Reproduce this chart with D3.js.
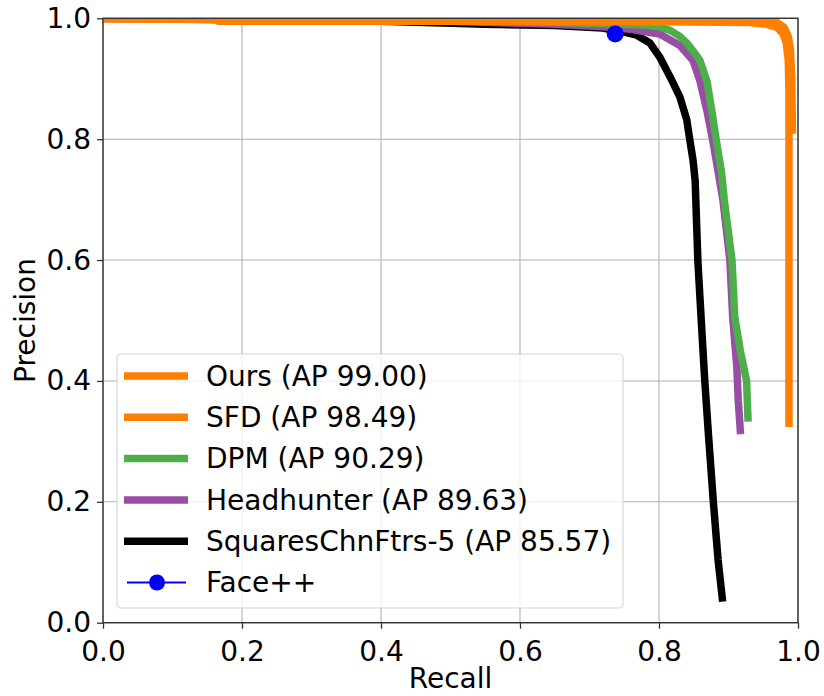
<!DOCTYPE html>
<html>
<head>
<meta charset="utf-8">
<script src="https://cdn.jsdelivr.net/npm/d3@7"></script>
<style>
  html, body { margin: 0; padding: 0; background: #fff; }
  svg text { font-family: "DejaVu Sans", sans-serif; fill: #000; }
</style>
</head>
<body>
<svg id="chart" width="824" height="696"></svg>
<script>
// Precision-recall curves, each a list of [recall, precision]
const ours = [[0,1],[0.5,1],[0.9,0.999],[0.95,0.997],[0.97,0.993],[0.98,0.985],[0.986,0.97],[0.989,0.95],[0.991,0.9],[0.992,0.815]];
const sfd = [[0,0.999],[0.165,0.998],[0.166,0.995],[0.5,0.995],[0.85,0.994],[0.93,0.993],[0.955,0.99],[0.97,0.985],[0.978,0.975],[0.983,0.96],[0.986,0.93],[0.987,0.88],[0.987,0.6],[0.987,0.33]];
const dpm = [[0,1],[0.5,0.997],[0.7,0.992],[0.78,0.989],[0.8,0.986],[0.816,0.98],[0.83,0.97],[0.84,0.959],[0.85,0.945],[0.859,0.93],[0.869,0.896],[0.876,0.847],[0.883,0.794],[0.89,0.745],[0.894,0.699],[0.905,0.6],[0.909,0.506],[0.917,0.45],[0.926,0.4],[0.928,0.339]];
const headhunter = [[0,1],[0.5,0.995],[0.65,0.99],[0.72,0.986],[0.76,0.982],[0.801,0.974],[0.83,0.955],[0.849,0.93],[0.859,0.896],[0.869,0.847],[0.878,0.794],[0.892,0.699],[0.902,0.6],[0.906,0.506],[0.912,0.423],[0.914,0.368],[0.917,0.318]];
const squares = [[0,1],[0.4,0.995],[0.55,0.99],[0.65,0.988],[0.719,0.984],[0.75,0.977],[0.768,0.972],[0.787,0.959],[0.801,0.936],[0.816,0.903],[0.83,0.87],[0.84,0.832],[0.842,0.816],[0.849,0.765],[0.852,0.732],[0.856,0.597],[0.863,0.456],[0.866,0.398],[0.871,0.314],[0.878,0.203],[0.885,0.104],[0.891,0.041]];
const facepp = [[0.737,0.974]];

const legendLabels = ["Ours (AP 99.00)","SFD (AP 98.49)","DPM (AP 90.29)","Headhunter (AP 89.63)","SquaresChnFtrs-5 (AP 85.57)","Face++"];
const tickValues = [0, 0.2, 0.4, 0.6, 0.8, 1.0];

const colors = { ours: "#ff7f00", sfd: "#ff7f00", dpm: "#4daf4a", headhunter: "#984ea3", squares: "#000000", facepp: "#0000ff" };

const svg = d3.select("#chart");
const plotLeft = 103, plotRight = 798, plotTop = 18.3, plotBottom = 622.7;

const x = d3.scaleLinear().domain([0, 1]).range([plotLeft, plotRight]);
const y = d3.scaleLinear().domain([0, 1]).range([plotBottom, plotTop]);

// grid
const grid = svg.append("g");
grid.selectAll("line.gx").data(tickValues).join("line")
  .attr("x1", d => x(d)).attr("x2", d => x(d)).attr("y1", plotTop).attr("y2", plotBottom)
  .attr("stroke", "#b0b0b0").attr("stroke-width", 1.1);
grid.selectAll("line.gy").data(tickValues).join("line")
  .attr("y1", d => y(d)).attr("y2", d => y(d)).attr("x1", plotLeft).attr("x2", plotRight)
  .attr("stroke", "#b0b0b0").attr("stroke-width", 1.1);

svg.append("clipPath").attr("id", "plotclip").append("rect")
  .attr("x", plotLeft).attr("y", plotTop).attr("width", plotRight - plotLeft).attr("height", plotBottom - plotTop);

const line = d3.line().x(d => x(d[0])).y(d => y(d[1]));
const curves = svg.append("g").attr("clip-path", "url(#plotclip)");
const series = [
  { data: squares, color: colors.squares },
  { data: headhunter, color: colors.headhunter },
  { data: dpm, color: colors.dpm },
  { data: sfd, color: colors.sfd },
  { data: ours, color: colors.ours }
];
series.forEach(s => {
  curves.append("path").datum(s.data).attr("d", line)
    .attr("fill", "none").attr("stroke", s.color).attr("stroke-width", 7.5)
    .attr("stroke-linejoin", "round").attr("stroke-linecap", "square");
});
curves.selectAll("circle.fp").data(facepp).join("circle")
  .attr("cx", d => x(d[0])).attr("cy", d => y(d[1])).attr("r", 8.5)
  .attr("fill", colors.facepp);

// axes
const fmt = d3.format(".1f");
const xAxis = svg.append("g").attr("transform", `translate(0,${plotBottom})`)
  .call(d3.axisBottom(x).tickValues(tickValues).tickFormat(fmt).tickSize(6).tickPadding(6));
const yAxis = svg.append("g").attr("transform", `translate(${plotLeft},0)`)
  .call(d3.axisLeft(y).tickValues(tickValues).tickFormat(fmt).tickSize(6).tickPadding(6));
[xAxis, yAxis].forEach(a => {
  a.select(".domain").remove();
  a.selectAll(".tick line").attr("stroke", "#333").attr("stroke-width", 1.3);
  a.selectAll(".tick text").attr("font-size", 28).attr("font-family", "DejaVu Sans");
});
xAxis.selectAll(".tick text").attr("dy", "0.95em");

svg.append("rect").attr("x", plotLeft).attr("y", plotTop).attr("width", plotRight - plotLeft).attr("height", plotBottom - plotTop)
  .attr("fill", "none").attr("stroke", "#333").attr("stroke-width", 1.4);

svg.append("text").attr("x", (plotLeft + plotRight) / 2).attr("y", 688).attr("text-anchor", "middle")
  .attr("font-size", 28).text("Recall");
svg.append("text").attr("transform", `translate(35,${(plotTop + plotBottom) / 2}) rotate(-90)`)
  .attr("text-anchor", "middle").attr("font-size", 28).text("Precision");

// legend
const legend = svg.append("g");
legend.append("rect").attr("x", 117).attr("y", 354).attr("width", 506).attr("height", 254)
  .attr("rx", 4).attr("fill", "#fff").attr("fill-opacity", 0.8)
  .attr("stroke", "#d6d6d6").attr("stroke-width", 1.2);
const legendColors = [colors.ours, colors.sfd, colors.dpm, colors.headhunter, colors.squares, colors.facepp];
legendLabels.forEach((label, i) => {
  const cy = 376 + i * 41.3;
  const g = legend.append("g");
  if (i < 5) {
    g.append("line").attr("x1", 124).attr("x2", 188).attr("y1", cy).attr("y2", cy)
      .attr("stroke", legendColors[i]).attr("stroke-width", 7.5);
  } else {
    g.append("line").attr("x1", 127).attr("x2", 186).attr("y1", cy).attr("y2", cy)
      .attr("stroke", legendColors[i]).attr("stroke-width", 2);
    g.append("circle").attr("cx", 157).attr("cy", cy).attr("r", 8).attr("fill", legendColors[i]);
  }
  g.append("text").attr("x", 206).attr("y", cy).attr("dy", "0.35em")
    .attr("font-size", 28).text(label);
});
</script>
</body>
</html>
